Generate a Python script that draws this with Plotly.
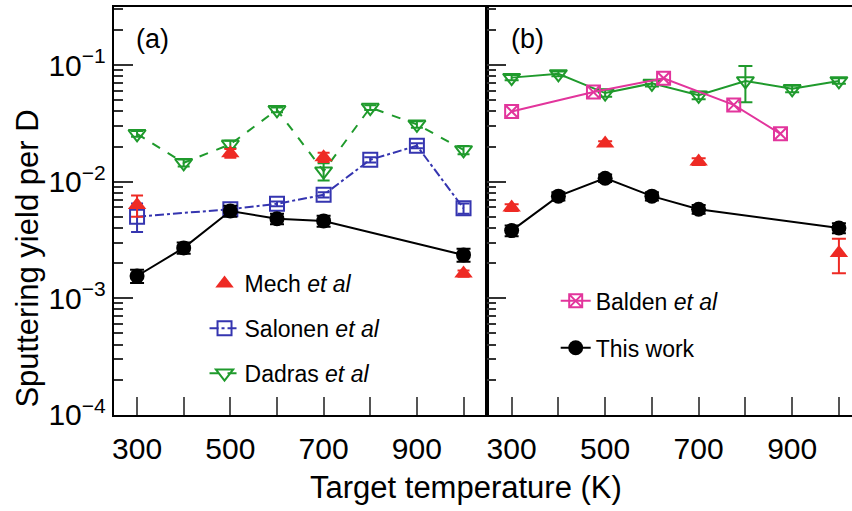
import plotly.graph_objects as go

# ---------------- data ----------------
T_this = [300, 400, 500, 600, 700, 1000]
this_a = [0.00155, 0.0027, 0.0056, 0.0048, 0.0046, 0.00235]
this_a_err = [0.0002, 0.0003, 0.0006, 0.0005, 0.0005, 0.0003]
this_b = [0.0038, 0.0075, 0.0107, 0.0075, 0.0058, 0.0040]
this_b_err = [0.0004, 0.0006, 0.0008, 0.0006, 0.0005, 0.0004]

T_mech = [300, 500, 700, 1000]
mech_a = [0.0063, 0.0175, 0.0162, 0.00163]
mech_a_err = [0.0013, 0.0015, 0.0015, 0.0001]
mech_b = [0.0060, 0.0212, 0.0149, 0.00244]
mech_b_err = [0.0004, 0.0010, 0.0010, 0.0008]

T_sal = [300, 500, 600, 700, 800, 900, 1000]
sal_a = [0.0050, 0.0058, 0.00645, 0.0077, 0.0154, 0.0203, 0.0059]
sal_a_err_plus = [0.0015, 0.0003, 0.0003, 0.0004, 0.0008, 0.001, 0.0006]
sal_a_err_minus = [0.0013, 0.0003, 0.0003, 0.0004, 0.0008, 0.001, 0.0006]

T_dad = [300, 400, 500, 600, 700, 800, 900, 1000]
dad_a = [0.0257, 0.0145, 0.0209, 0.0413, 0.0123, 0.0432, 0.031, 0.0187]
dad_a_err = [0.0015, 0.0010, 0.0015, 0.002, 0.0021, 0.002, 0.002, 0.0015]
dad_b = [0.078, 0.084, 0.0575, 0.0696, 0.055, 0.073, 0.0625, 0.073]
dad_b_err = [0.004, 0.004, 0.004, 0.004, 0.004, 0.025, 0.004, 0.004]

T_bal = [300, 475, 625, 775, 875]
bal_b = [0.040, 0.0586, 0.077, 0.0455, 0.0257]

x_major = [300, 500, 700, 900]
x_minor = [400, 600, 800, 1000]
y_ticks = [1e-4, 1e-3, 1e-2, 1e-1]
y_ticktext = ["10<sup>\u22124</sup>", "10<sup>\u22123</sup>", "10<sup>\u22122</sup>", "10<sup>\u22121</sup>"]
y_minor = [m * 10 ** e for e in (-4, -3, -2, -1) for m in range(2, 10) if m * 10 ** e < 0.32]

GREEN = "#1f9a2c"
BLUE = "#3535b0"
RED = "#ee2a24"
PINK = "#e2359c"
BLACK = "#000000"
FONT = "Arial, Liberation Sans, sans-serif"

W, H = 852, 511
def px(x):
    return x / W
def py(y):
    return 1 - y / H

fig = go.Figure()

# ---------- panel (a) ----------
fig.add_trace(go.Scatter(
    x=T_sal, y=sal_a, mode="lines+markers", name="Salonen <i>et al</i>",
    line=dict(color=BLUE, width=2, dash="dashdot"),
    marker=dict(symbol="square-open", size=14, color=BLUE, line=dict(width=2, color=BLUE)),
    error_y=dict(type="data", symmetric=False, array=sal_a_err_plus, arrayminus=sal_a_err_minus,
                 color=BLUE, thickness=2, width=6),
    xaxis="x", yaxis="y", legend="legend", legendgroup="sal", legendrank=2))
fig.add_trace(go.Scatter(
    x=T_dad, y=dad_a, mode="lines+markers", name="Dadras <i>et al</i>",
    line=dict(color=GREEN, width=2, dash="dash"),
    marker=dict(symbol="triangle-down-open", size=15, color=GREEN, line=dict(width=2, color=GREEN)),
    error_y=dict(type="data", array=dad_a_err, color=GREEN, thickness=2, width=6),
    xaxis="x", yaxis="y", legend="legend", legendgroup="dad", legendrank=3))
fig.add_trace(go.Scatter(
    x=T_mech, y=mech_a, mode="markers", name="Mech <i>et al</i>",
    marker=dict(symbol="triangle-up", size=16, color=RED),
    error_y=dict(type="data", array=mech_a_err, color=RED, thickness=2, width=6),
    xaxis="x", yaxis="y", legend="legend", legendgroup="mech", legendrank=1))
fig.add_trace(go.Scatter(
    x=T_this, y=this_a, mode="lines+markers", name="This work",
    line=dict(color=BLACK, width=2),
    marker=dict(symbol="circle", size=15, color=BLACK),
    error_y=dict(type="data", array=this_a_err, color=BLACK, thickness=2, width=7),
    xaxis="x", yaxis="y", showlegend=False))

# ---------- panel (b) ----------
fig.add_trace(go.Scatter(
    x=T_dad, y=dad_b, mode="lines+markers", name="Dadras <i>et al</i>",
    line=dict(color=GREEN, width=2),
    marker=dict(symbol="triangle-down-open", size=15, color=GREEN, line=dict(width=2, color=GREEN)),
    error_y=dict(type="data", array=dad_b_err, color=GREEN, thickness=2, width=7),
    xaxis="x2", yaxis="y2", showlegend=False))
fig.add_trace(go.Scatter(
    x=T_bal, y=bal_b, mode="lines+markers", name="Balden <i>et al</i>",
    line=dict(color=PINK, width=2),
    marker=dict(symbol="square-x-open", size=13, color=PINK, line=dict(width=2, color=PINK)),
    xaxis="x2", yaxis="y2", legend="legend2", legendgroup="bal", legendrank=1))
fig.add_trace(go.Scatter(
    x=T_mech, y=mech_b, mode="markers", name="Mech <i>et al</i>",
    marker=dict(symbol="triangle-up", size=16, color=RED),
    error_y=dict(type="data", array=mech_b_err, color=RED, thickness=2, width=7),
    xaxis="x2", yaxis="y2", showlegend=False))
fig.add_trace(go.Scatter(
    x=T_this, y=this_b, mode="lines+markers", name="This work",
    line=dict(color=BLACK, width=2),
    marker=dict(symbol="circle", size=15, color=BLACK),
    error_y=dict(type="data", array=this_b_err, color=BLACK, thickness=2, width=7),
    xaxis="x2", yaxis="y2", legend="legend2", legendgroup="this", legendrank=2))

xa = px(112); xm = px(486); xb = 1.0
yb = py(429); yt = py(7)

common_x = dict(type="linear", range=[250, 1050], tickmode="array", tickvals=x_major,
                ticks="inside", ticklen=18, tickwidth=1.5, tickcolor="#555",
                minor=dict(tickmode="array", tickvals=x_minor, ticks="inside", ticklen=18,
                           tickwidth=1.5, tickcolor="#555", showgrid=False),
                ticklabelstandoff=6,
                showline=True, linecolor="black", linewidth=2, mirror=True, showgrid=False,
                zeroline=False, tickfont=dict(family=FONT, size=30, color="black"))
common_y = dict(type="log", range=[-4, -0.5], tickmode="array", tickvals=y_ticks,
                ticks="inside", ticklen=19, tickwidth=1.5, tickcolor="#333",
                showline=True, linecolor="black", linewidth=2, showgrid=False, zeroline=False,
                minor=dict(tickmode="array", tickvals=y_minor, ticks="inside", ticklen=9,
                           tickwidth=1.5, tickcolor="#333", showgrid=False),
                tickfont=dict(family=FONT, size=30, color="black"))

fig.update_layout(
    width=W, height=H, margin=dict(l=0, r=0, t=0, b=0),
    paper_bgcolor="white", plot_bgcolor="white",
    xaxis=dict(common_x, domain=[xa, xm], anchor="y"),
    yaxis=dict(common_y, domain=[yb, yt], anchor="x", mirror=True, ticktext=y_ticktext),
    xaxis2=dict(common_x, domain=[xm, xb], anchor="y2", range=[247, 1028]),
    yaxis2=dict(common_y, domain=[yb, yt], anchor="x2", showticklabels=False, mirror=False),
    legend=dict(x=px(203), y=py(271), xanchor="left", yanchor="top", bgcolor="rgba(0,0,0,0)",
                font=dict(family=FONT, size=23, color="black"), traceorder="grouped",
                tracegroupgap=12),
    legend2=dict(x=px(555), y=py(289), xanchor="left", yanchor="top", bgcolor="rgba(0,0,0,0)",
                 font=dict(family=FONT, size=23, color="black"), traceorder="grouped",
                 tracegroupgap=14),
    annotations=[
        dict(text="(a)", x=px(132), y=py(40), xref="paper", yref="paper", xanchor="left",
             yanchor="middle", showarrow=False, font=dict(family=FONT, size=27, color="black")),
        dict(text="(b)", x=px(508), y=py(40), xref="paper", yref="paper", xanchor="left",
             yanchor="middle", showarrow=False, font=dict(family=FONT, size=27, color="black")),
        dict(text="Target temperature (K)", x=px(465), y=py(492), xref="paper", yref="paper",
             xanchor="center", yanchor="middle", showarrow=False, yshift=-12,
             font=dict(family=FONT, size=31, color="black")),
        dict(text="Sputtering yield per D", x=px(26), y=py(252), xref="paper", yref="paper",
             xanchor="center", yanchor="middle", showarrow=False, textangle=-90, yshift=-15,
             font=dict(family=FONT, size=31, color="black")),
    ],
)

fig.write_html("out.html")
